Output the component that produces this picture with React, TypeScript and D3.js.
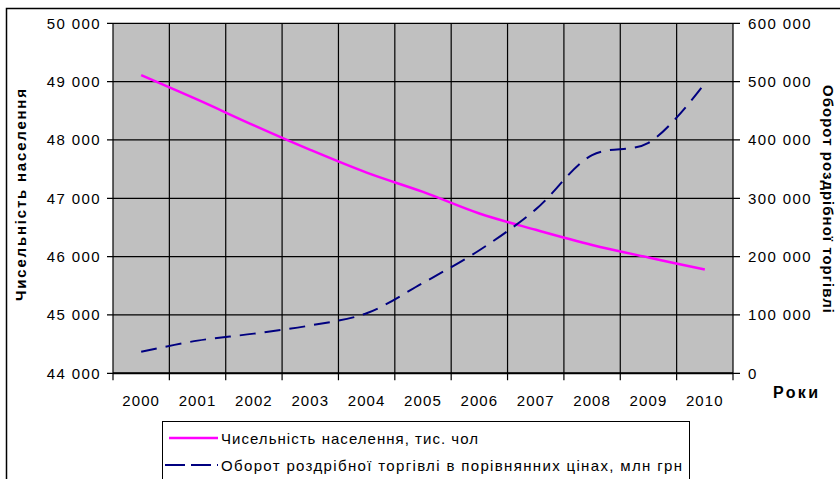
import React, { useEffect } from "react";
import * as d3 from "d3";

const years = ["2000", "2001", "2002", "2003", "2004", "2005", "2006", "2007", "2008", "2009", "2010"];
// thousand persons
const population = [49110, 48690, 48250, 47830, 47440, 47110, 46740, 46460, 46200, 45985, 45780];
// million UAH, comparable prices
const retail = [37000, 56000, 68000, 82000, 103000, 155000, 211000, 281000, 374000, 395000, 497000];
const leftTicks = [44000, 45000, 46000, 47000, 48000, 49000, 50000];
const rightTicks = [0, 100000, 200000, 300000, 400000, 500000, 600000];
const seriesNames = [
  "Чисельність населення, тис. чол",
  "Оборот роздрібної торгівлі в порівнянних цінах, млн грн",
];

const W = 840;
const H = 479;
const plot = { left: 113, right: 733, top: 23.3, bottom: 373.3 };
const FONT = "'Liberation Sans', Arial, sans-serif";

const fmt = d3
  .formatLocale({ decimal: ",", thousands: " ", grouping: [3], currency: ["", ""] })
  .format(",");

export default function App() {
  useEffect(() => {
    document.body.style.margin = "0";
  }, []);

  const x = d3.scaleBand<string>().domain(years).range([plot.left, plot.right]).padding(0);
  const bw = x.bandwidth();
  const cx = (y: string) => (x(y) ?? 0) + bw / 2;
  const yL = d3.scaleLinear().domain([44000, 50000]).range([plot.bottom, plot.top]);
  const yR = d3.scaleLinear().domain([0, 600000]).range([plot.bottom, plot.top]);

  const boundaries = [...years.map((y) => x(y) ?? 0), plot.right];

  const popLine = d3
    .line<number>()
    .x((_, i) => cx(years[i]))
    .y((d) => yL(d))
    .curve(d3.curveCatmullRom.alpha(0.5));
  const retLine = d3
    .line<number>()
    .x((_, i) => cx(years[i]))
    .y((d) => yR(d))
    .curve(d3.curveCatmullRom.alpha(0.5));

  return (
    <svg width={W} height={H} style={{ display: "block", background: "#fff" }} fontFamily={FONT}>
      {/* chart frame */}
      <path d={`M6.5,${H} V8.5 H${W}`} fill="none" stroke="#000" strokeWidth={1.5} />

      {/* plot area */}
      <rect
        x={plot.left}
        y={plot.top}
        width={plot.right - plot.left}
        height={plot.bottom - plot.top}
        fill="#c0c0c0"
      />
      <g stroke="#000" strokeWidth={1.2}>
        {leftTicks.map((t) => (
          <line key={"h" + t} x1={plot.left - 6} x2={plot.right + 7} y1={yL(t)} y2={yL(t)} />
        ))}
        {boundaries.map((b, i) => (
          <line key={"v" + i} x1={b} x2={b} y1={plot.top} y2={plot.bottom + 7} />
        ))}
      </g>
      <line x1={plot.left} x2={plot.right} y1={plot.bottom} y2={plot.bottom} stroke="#000" strokeWidth={2} />

      {/* series */}
      <path d={popLine(population) || ""} fill="none" stroke="#ff00ff" strokeWidth={2.5} />
      <path
        d={retLine(retail) || ""}
        fill="none"
        stroke="#000080"
        strokeWidth={2}
        strokeDasharray="16 9"
      />

      {/* left axis labels */}
      <g fontSize={15} textAnchor="end" fill="#000" letterSpacing={1.4}>
        {leftTicks.map((t) => (
          <text key={t} x={101} y={yL(t)} dominantBaseline="central">
            {fmt(t)}
          </text>
        ))}
      </g>
      {/* right axis labels */}
      <g fontSize={15} textAnchor="start" fill="#000" letterSpacing={1.4}>
        {rightTicks.map((t) => (
          <text key={t} x={748} y={yR(t)} dominantBaseline="central">
            {fmt(t)}
          </text>
        ))}
      </g>
      {/* x axis labels */}
      <g fontSize={15} textAnchor="middle" fill="#000" letterSpacing={1.1}>
        {years.map((y) => (
          <text key={y} x={cx(y)} y={406}>
            {y}
          </text>
        ))}
      </g>

      {/* axis titles */}
      <text
        transform="translate(20,195) rotate(-90)"
        textAnchor="middle"
        dominantBaseline="central"
        fontSize={15}
        fontWeight="bold"
        textLength={212}
        lengthAdjust="spacing"
      >
        Чисельність населення
      </text>
      <text
        transform="translate(828,199) rotate(90)"
        textAnchor="middle"
        dominantBaseline="central"
        fontSize={15}
        fontWeight="bold"
        textLength={228}
        lengthAdjust="spacing"
      >
        Оборот роздрібної торгівлі
      </text>
      <text x={773} y={398} fontSize={16} fontWeight="bold" textLength={45} lengthAdjust="spacing">
        Роки
      </text>

      {/* legend */}
      <rect x={162.5} y={421.5} width={527} height={70} fill="#fff" stroke="#000" strokeWidth={1} />
      <line x1={169} x2={218} y1={438} y2={438} stroke="#ff00ff" strokeWidth={2.5} />
      <line x1={165} x2={218} y1={465} y2={465} stroke="#000080" strokeWidth={2} strokeDasharray="20 6" />
      <g fontSize={15} fill="#000">
        <text x={221} y={438} dominantBaseline="central" textLength={257} lengthAdjust="spacing">
          {seriesNames[0]}
        </text>
        <text x={221} y={465} dominantBaseline="central" textLength={461} lengthAdjust="spacing">
          {seriesNames[1]}
        </text>
      </g>
    </svg>
  );
}
